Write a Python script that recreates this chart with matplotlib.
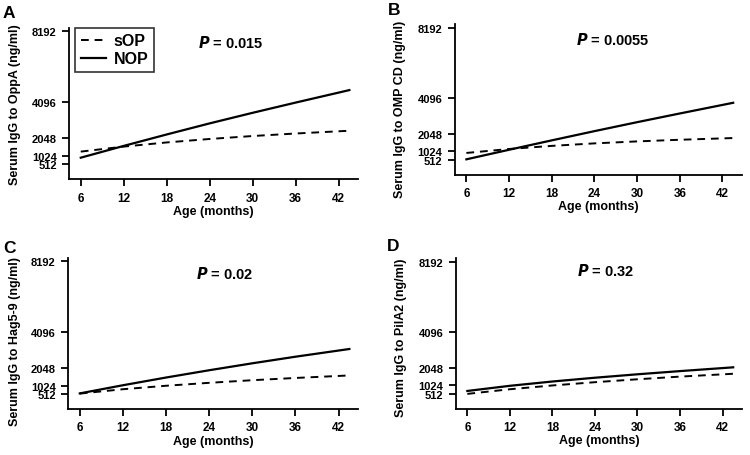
import matplotlib
matplotlib.use("Agg")
import matplotlib.pyplot as plt

plt.rcParams['font.family'] = ['Liberation Sans', 'DejaVu Sans']
plt.rcParams['font.weight'] = 'bold'

ages = [6, 12, 18, 24, 30, 36, 43.5]
yticks = [512, 1024, 2048, 4096, 8192]
xticks = [6, 12, 18, 24, 30, 36, 42]

oppa_sop = [1250, 1540, 1780, 1980, 2150, 2295, 2455]
oppa_nop = [900, 1580, 2240, 2880, 3490, 4080, 4800]
ompcd_sop = [920, 1150, 1330, 1475, 1590, 1685, 1785]
ompcd_nop = [550, 1105, 1650, 2185, 2705, 3210, 3830]
hag_sop = [560, 810, 1010, 1180, 1330, 1460, 1605]
hag_nop = [570, 1040, 1485, 1905, 2305, 2685, 3130]
pila_sop = [520, 790, 1010, 1200, 1370, 1525, 1690]
pila_nop = [690, 990, 1240, 1460, 1660, 1845, 2065]

panels = ['A', 'B', 'C', 'D']
ylabels = ['Serum IgG to OppA (ng/ml)', 'Serum IgG to OMP CD (ng/ml)',
           'Serum IgG to Hag5-9 (ng/ml)', 'Serum IgG to PilA2 (ng/ml)']
pvals = ['0.015', '0.0055', '0.02', '0.32']
sop_series = [oppa_sop, ompcd_sop, hag_sop, pila_sop]
nop_series = [oppa_nop, ompcd_nop, hag_nop, pila_nop]

W, H = 750, 456
# pixel boxes: left, top, right, bottom
boxes = [(69.3, 28.7, 358, 180), (455, 25, 741.7, 175.5),
         (68.3, 258.6, 358, 410), (456, 259.4, 741.7, 409.5)]
ylabel_coords = [(-0.167, 0.5), (-0.171, 0.439), (-0.163, 0.452), (-0.1715, 0.48)]
ptext_pos = [(27.0, 7600), (26.6, 7520), (26.1, 7510), (25.5, 7714)]
letter_pos = [(3, 18), (388, 15), (3, 253), (387, 251)]

fig = plt.figure(figsize=(7.5, 4.56), dpi=100)

for i in range(4):
    l, t, r, b = boxes[i]
    ax = fig.add_axes([l / W, 1 - b / H, (r - l) / W, (b - t) / H])
    ax.plot(ages, sop_series[i], color='black', lw=1.4, ls=(0, (4, 3)), label='sOP')
    ax.plot(ages, nop_series[i], color='black', lw=1.6, ls='-', label='NOP')
    ax.set_xlim(4.4, 44.7)
    ax.set_ylim(-330, 8400)
    ax.set_xticks(xticks)
    ax.set_yticks(yticks)
    ax.spines['top'].set_visible(False)
    ax.spines['right'].set_visible(False)
    ax.spines['left'].set_linewidth(1.3)
    ax.spines['bottom'].set_linewidth(1.3)
    ax.tick_params(axis='x', direction='out', length=5, width=1.3, labelsize=8.5, pad=4)
    ax.tick_params(axis='y', direction='out', length=5, width=1.3, labelsize=8, pad=4)
    for lab in ax.get_xticklabels() + ax.get_yticklabels():
        lab.set_fontweight('bold')
    ax.set_xlabel('Age (months)', fontsize=9, fontweight='bold', labelpad=1)
    ax.set_ylabel(ylabels[i], fontsize=9, fontweight='bold')
    ax.yaxis.set_label_coords(*ylabel_coords[i])
    px, py = ptext_pos[i]
    ax.text(px, py, r'$\bfit{P}$' + ' = ' + pvals[i], fontsize=10.5, fontweight='bold',
            ha='center', va='center')
    lx, ly = letter_pos[i]
    fig.text(lx / W, 1 - ly / H, panels[i], fontsize=12.5, fontweight='bold',
             ha='left', va='baseline')
    if i == 0:
        leg = ax.legend(loc='upper left', bbox_to_anchor=(0.02, 1.0), frameon=True,
                        fancybox=False, edgecolor='black', fontsize=11.5,
                        handlelength=1.6, borderpad=0.35, labelspacing=0.2,
                        handletextpad=0.45, borderaxespad=0.0)
        leg.get_frame().set_linewidth(1.2)
        for txt in leg.get_texts():
            txt.set_fontweight('bold')

fig.savefig('out.png', dpi=100)
